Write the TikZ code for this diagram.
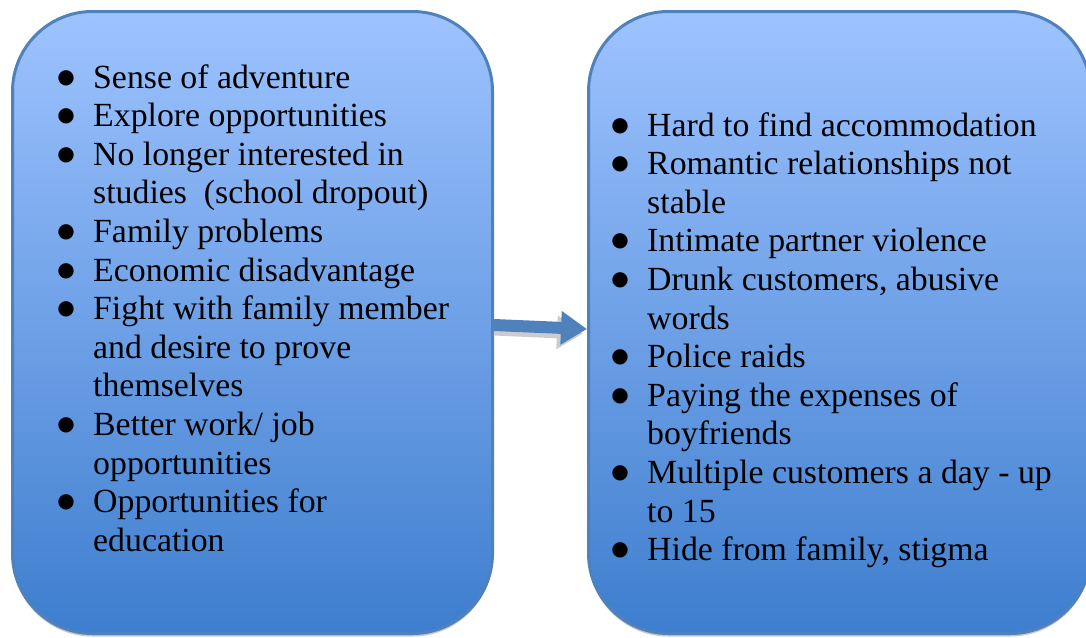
\documentclass[tikz,border=0pt]{standalone}
\usepackage{fontspec}
\setmainfont{Liberation Serif}
\newfontfamily\bulfont{DejaVu Sans}
\usetikzlibrary{arrows.meta,shadows}
\definecolor{boxtop}{RGB}{158,195,255}
\definecolor{boxbot}{RGB}{62,126,206}
\definecolor{edge}{RGB}{79,129,189}
\newcommand\bul{\makebox[13pt]{\raisebox{5pt}{\bulfont\fontsize{20}{20}\selectfont ●}}}
\tikzset{
  panel/.style={draw=edge, line width=3pt, rounded corners=80pt,
    top color=boxtop, bottom color=boxbot, inner sep=0pt,
    drop shadow={shadow xshift=0pt, shadow yshift=-3pt, fill=gray!45, opacity=1}},
  listtext/.style={inner sep=0pt, anchor=base west,
    font=\fontsize{33.8}{38.6}\selectfont},
  bigarrow/.style={draw=edge, line width=12pt, -{Triangle[length=26pt,width=32pt]}},
  arrowshadow/.style={draw=gray!40, line width=12pt, -{Triangle[length=26pt,width=32pt]}}
}
\begin{document}
\begin{tikzpicture}[x=1pt,y=-1pt]
\useasboundingbox (0,0) rectangle (1086,637);
\node[panel, minimum width=480pt, minimum height=622pt] (L) at (252.5,322.5) {};
\node[panel, minimum width=502pt, minimum height=622pt] (R) at (839.5,322.5) {};
\node[listtext] (Lt) at (59.5,88) {\begin{tabular}[t]{@{}l@{\hspace{20.5pt}}l@{}}
\bul & Sense of adventure\\
\bul & Explore opportunities\\
\bul & No longer interested in\\
 & studies\ \ (school dropout)\\
\bul & Family problems\\
\bul & Economic disadvantage\\
\bul & Fight with family member\\
 & and desire to prove\\
 & themselves\\
\bul & Better work/ job\\
 & opportunities\\
\bul & Opportunities for\\
 & education
\end{tabular}};
\node[listtext] (Rt) at (613.5,136) {\begin{tabular}[t]{@{}l@{\hspace{20.5pt}}l@{}}
\bul & Hard to find accommodation\\
\bul & Romantic relationships not\\
 & stable\\
\bul & Intimate partner violence\\
\bul & Drunk customers, abusive\\
 & words\\
\bul & Police raids\\
\bul & Paying the expenses of\\
 & boyfriends\\
\bul & Multiple customers a day - up\\
 & to 15\\
\bul & Hide from family, stigma
\end{tabular}};
\draw[arrowshadow] ([yshift=-7pt]L.east) -- ([yshift=-11pt,xshift=-4pt]R.west);
\draw[bigarrow] ([yshift=-2.5pt]L.east) -- ([yshift=-6.5pt]R.west);
\end{tikzpicture}
\end{document}
